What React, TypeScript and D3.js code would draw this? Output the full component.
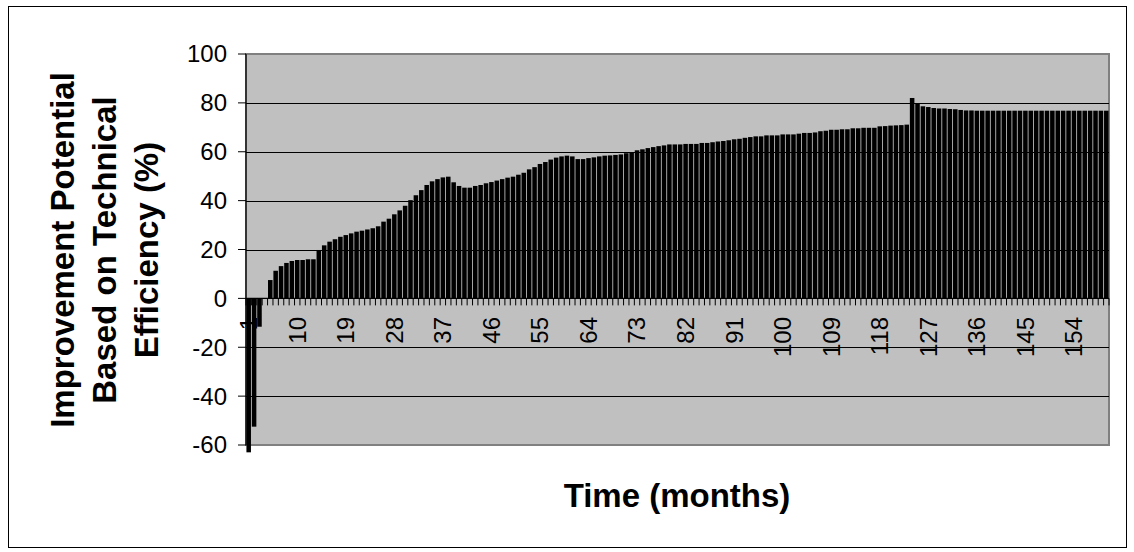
import React from "react";
import * as d3 from "d3";

const months: number[] = d3.range(1, 161);
const values: number[] = [
  -63, -52.5, -11.6, 0, 7.5, 11.3, 13.2, 14.5, 15.3, 15.7,
  15.7, 16.0, 16.0, 19.8, 21.7, 23.2, 24.2, 25.2, 25.9, 26.6,
  27.3, 27.7, 28.2, 28.7, 29.5, 31.4, 32.6, 34.4, 36.0, 37.9,
  40.2, 42.2, 44.3, 46.4, 47.9, 48.8, 49.5, 49.8, 47.5, 46.0,
  45.3, 45.3, 46.0, 46.4, 47.1, 47.6, 48.2, 48.8, 49.4, 49.8,
  50.6, 51.4, 52.8, 53.7, 55.0, 55.8, 56.8, 57.6, 58.1, 58.4,
  58.1, 57.0, 57.0, 57.4, 57.7, 58.1, 58.4, 58.5, 58.7, 58.9,
  59.4, 59.8, 60.6, 61.0, 61.5, 61.9, 62.3, 62.6, 63.0, 63.0,
  63.0, 63.2, 63.2, 63.2, 63.6, 63.6, 63.9, 64.2, 64.4, 64.7,
  65.1, 65.3, 65.7, 66.0, 66.3, 66.3, 66.7, 66.7, 66.7, 67.1,
  67.1, 67.1, 67.4, 67.7, 67.7, 67.9, 68.4, 68.6, 69.0, 69.0,
  69.2, 69.2, 69.6, 69.6, 69.8, 69.8, 69.8, 70.4, 70.5, 70.7,
  70.8, 70.9, 71.1, 82.0, 79.8, 78.6, 78.3, 77.9, 77.7, 77.7,
  77.5, 77.4, 77.1, 76.9, 76.9, 76.8, 76.8, 76.8, 76.8, 76.8,
  76.8, 76.8, 76.8, 76.8, 76.8, 76.8, 76.8, 76.8, 76.8, 76.8,
  76.8, 76.8, 76.8, 76.8, 76.8, 76.8, 76.8, 76.8, 76.8, 76.8,
];
const xTickLabels: number[] = [1, 10, 19, 28, 37, 46, 55, 64, 73, 82, 91, 100, 109, 118, 127, 136, 145, 154];
const yTicks: number[] = [-60, -40, -20, 0, 20, 40, 60, 80, 100];
const yTitleLines: string[] = ["Improvement Potential", "Based on Technical", "Efficiency (%)"];
const xTitle = "Time (months)";

const FONT = "'Liberation Sans', Arial, sans-serif";

export default function App() {
  const W = 1134, H = 552;
  const left = 246, right = 1109, top = 54, bottom = 445;
  const x = d3.scaleBand<number>().domain(months).range([left, right]).paddingInner(0.16).paddingOuter(0.08);
  const y = d3.scaleLinear().domain([-60, 100]).range([bottom, top]);
  const step = x.step();
  const y0 = y(0);
  const boundaries = d3.range(0, months.length + 1).map((k) => left + k * step);

  return (
    <svg width={W} height={H} style={{ position: "absolute", left: 0, top: 0, background: "#fff" }}>
      <rect x={0} y={0} width={W} height={H} fill="#fff" />
      <rect x={8.5} y={6.5} width={1118} height={541} fill="none" stroke="#000" strokeWidth={1} />
      {/* plot area */}
      <rect x={left} y={top} width={right - left} height={bottom - top} fill="#C0C0C0" stroke="#808080" strokeWidth={2} />
      {/* gridlines */}
      {yTicks.filter((t) => t !== 0 && t !== 100 && t !== -60).map((t) => (
        <line key={"g" + t} x1={left} x2={right} y1={Math.round(y(t)) + 0.5} y2={Math.round(y(t)) + 0.5} stroke="#000" strokeWidth={1} />
      ))}
      {/* x ticks */}
      {boundaries.map((bx, i) => (
        <line key={"xt" + i} x1={bx} x2={bx} y1={y0} y2={y0 + 7} stroke="#000" strokeWidth={1} />
      ))}
      {/* x labels */}
      {xTickLabels.map((m) => {
        const cx = (x(m) as number) + x.bandwidth() / 2;
        return (
          <text key={"xl" + m} transform={`translate(${cx},317) rotate(-90)`} textAnchor="end" dy="0.35em"
            fontFamily={FONT} fontSize={24} fill="#000">{m}</text>
        );
      })}
      {/* bars */}
      {values.map((v, i) => {
        const m = months[i];
        const yy = Math.min(y(v), y0);
        const h = Math.abs(y(v) - y0);
        return <rect key={"b" + m} x={x(m)} y={yy} width={x.bandwidth()} height={h} fill="#000" />;
      })}
      {/* zero axis line */}
      <line x1={left} x2={right} y1={y0} y2={y0} stroke="#000" strokeWidth={1.2} />
      {/* y axis */}
      <line x1={left} x2={left} y1={top} y2={bottom} stroke="#000" strokeWidth={1.2} />
      {yTicks.map((t) => (
        <g key={"yt" + t}>
          <line x1={238} x2={left} y1={y(t)} y2={y(t)} stroke="#000" strokeWidth={1} />
          <text x={227} y={y(t)} dy="0.35em" textAnchor="end" fontFamily={FONT} fontSize={24} fill="#000">{t}</text>
        </g>
      ))}
      {/* y title */}
      {yTitleLines.map((s, i) => (
        <text key={"yt" + i} transform={`translate(${73.5 + i * 42},250) rotate(-90)`} textAnchor="middle"
          fontFamily={FONT} fontSize={33} fontWeight="bold" fill="#000">{s}</text>
      ))}
      {/* x title */}
      <text x={677} y={507} textAnchor="middle" fontFamily={FONT} fontSize={33} fontWeight="bold" fill="#000">{xTitle}</text>
    </svg>
  );
}
